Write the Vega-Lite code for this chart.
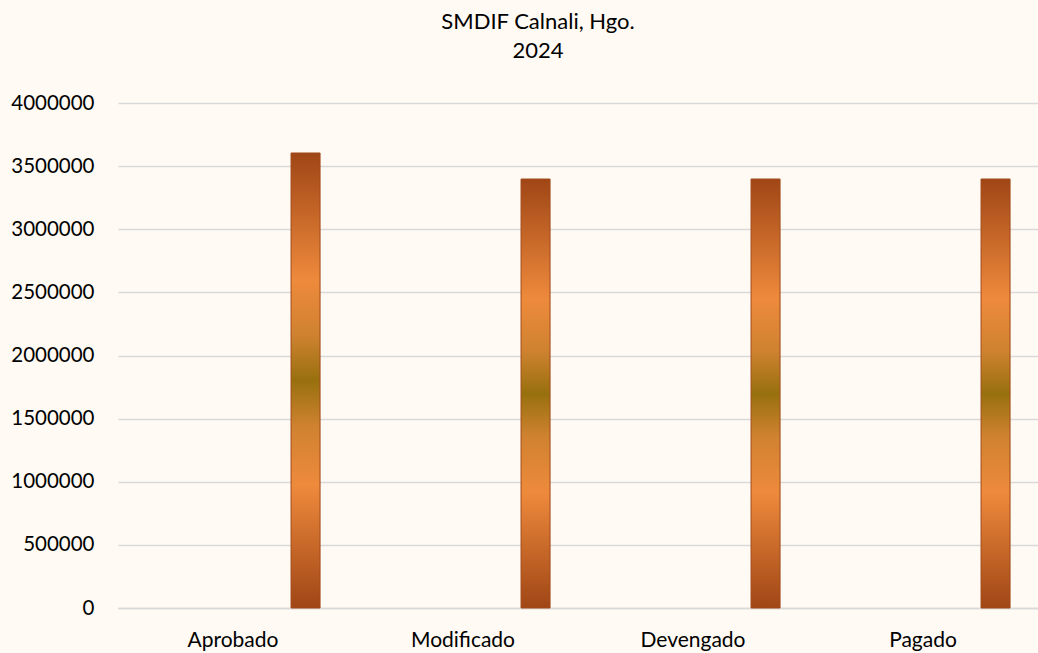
{
  "$schema": "https://vega.github.io/schema/vega-lite/v6.json",
  "width": 920,
  "height": 505,
  "autosize": {"type": "none"},
  "padding": {"left": 118, "top": 103, "right": 0, "bottom": 45},
  "background": "#fffaf3",
  "config": {"view": {"stroke": null}, "font": "Lato"},
  "title": {
    "text": ["SMDIF Calnali, Hgo.", "2024"],
    "font": "Lato",
    "fontSize": 22,
    "fontWeight": "normal",
    "color": "#000000",
    "lineHeight": 29,
    "anchor": "middle",
    "dx": -40,
    "offset": 30
  },
  "data": {
    "values": [
      {"etapa": "Aprobado", "serie": "monto", "valor": 3604000},
      {"etapa": "Modificado", "serie": "monto", "valor": 3398000},
      {"etapa": "Devengado", "serie": "monto", "valor": 3398000},
      {"etapa": "Pagado", "serie": "monto", "valor": 3398000}
    ]
  },
  "mark": {
    "type": "bar",
    "stroke": "#a14a1a",
    "strokeWidth": 1,
    "color": {
      "gradient": "linear",
      "x1": 0, "y1": 0, "x2": 0, "y2": 1,
      "stops": [
        {"offset": 0, "color": "#a04616"},
        {"offset": 0.28, "color": "#ee8a3c"},
        {"offset": 0.4, "color": "#cf8230"},
        {"offset": 0.5, "color": "#98700e"},
        {"offset": 0.6, "color": "#cf8230"},
        {"offset": 0.73, "color": "#ee8a3c"},
        {"offset": 1, "color": "#a04616"}
      ]
    }
  },
  "encoding": {
    "x": {
      "field": "etapa",
      "type": "nominal",
      "sort": ["Aprobado", "Modificado", "Devengado", "Pagado"],
      "scale": {"paddingInner": 0.243, "paddingOuter": 0.1215},
      "axis": {
        "title": null,
        "labelAngle": 0,
        "labelFont": "Lato",
        "labelFontSize": 21,
        "labelColor": "#000000",
        "labelPadding": 21,
        "ticks": false,
        "domain": true,
        "domainColor": "#d9d9d9",
        "domainWidth": 1.5
      }
    },
    "xOffset": {
      "field": "serie",
      "type": "nominal",
      "scale": {"domain": ["s1", "s2", "s3", "s4", "s5", "monto"], "paddingInner": 0, "paddingOuter": 0}
    },
    "y": {
      "field": "valor",
      "type": "quantitative",
      "scale": {"domain": [0, 4000000], "nice": false},
      "axis": {
        "title": null,
        "values": [0, 500000, 1000000, 1500000, 2000000, 2500000, 3000000, 3500000, 4000000],
        "format": "d",
        "labelFont": "Lato",
        "labelFontSize": 20.5,
        "labelColor": "#000000",
        "labelPadding": 24,
        "ticks": false,
        "domain": false,
        "grid": true,
        "gridColor": "#d9d9d9",
        "gridWidth": 1.5
      }
    }
  }
}
